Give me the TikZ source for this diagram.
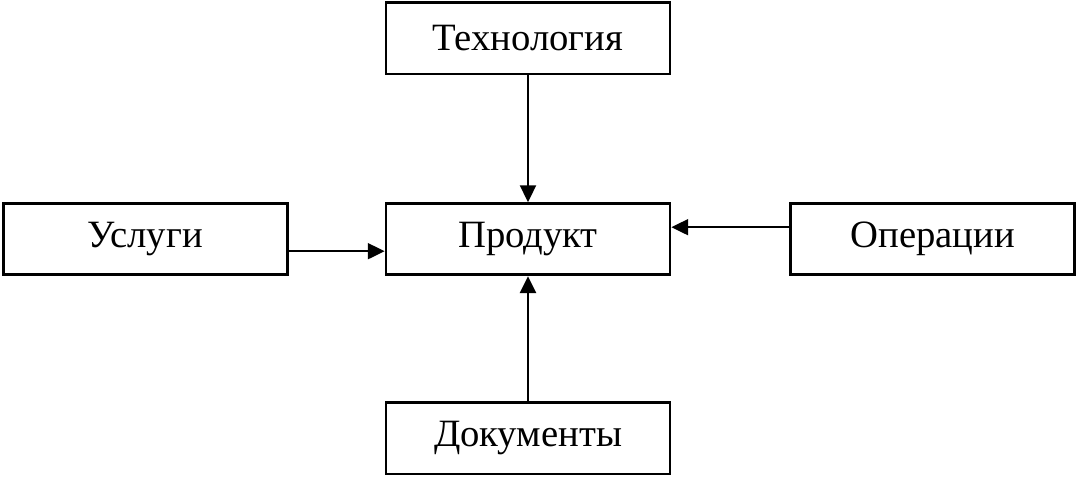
\documentclass[tikz,border=0pt]{standalone}
\usepackage{fontspec}
\setmainfont{Liberation Serif}
\usetikzlibrary{arrows.meta}

\begin{document}
\begin{tikzpicture}[
    blok/.style={draw, line width=2pt, minimum width=7.1cm, minimum height=1.78cm, inner sep=0pt, font=\fontsize{27.5}{30}\selectfont},
    strelka/.style={-{Triangle[length=0.42cm, width=0.4cm]}, line width=1.4pt}
]
    \useasboundingbox (0,0) rectangle (26.95,11.95);
    % Blocks
    \node[blok] (tech) at (13.2, 10.99) {Технология};
    \node[blok] (prod) at (13.2, 5.97) {Продукт};
    \node[blok] (usl) at (3.63, 5.97) {Услуги};
    \node[blok] (oper) at (23.32, 5.97) {Операции};
    \node[blok] (doc) at (13.2, 0.99) {Документы};

    % Arrows into the product
    \draw[strelka] (tech) -- (prod);
    \draw[strelka] ([yshift=-0.3cm]usl.east) -- ([yshift=-0.3cm]prod.west);
    \draw[strelka] ([yshift=0.3cm]oper.west) -- ([yshift=0.3cm]prod.east);
    \draw[strelka] (doc) -- (prod);
\end{tikzpicture}
\end{document}
